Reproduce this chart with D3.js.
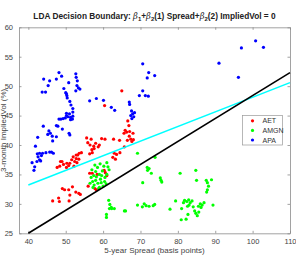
<!DOCTYPE html>
<html>
<head>
<meta charset="utf-8">
<script src="https://cdn.jsdelivr.net/npm/d3@7"></script>
<style>
  body { margin: 0; background: #fff; }
  text { font-family: "Liberation Sans", Arial, sans-serif; }
</style>
</head>
<body>
<div id="chart"></div>
<script>
// Data: [spread, impliedVol]
const aet = [
  [65.0,49.2],[60.4,46.7],[66.6,44.1],[66.9,43.3],[65.9,42.5],[66.3,42.2],[65.6,42.0],[67.1,42.3],
  [67.4,41.0],[68.1,40.9],[67.7,40.6],[55.6,41.2],[56.8,41.0],[59.6,41.1],[62.8,41.0],[64.4,40.8],
  [55.9,40.4],[56.5,40.0],[57.5,39.8],[58.0,40.3],[58.7,39.7],[59.0,40.0],[57.6,39.4],[57.1,38.7],
  [56.4,38.5],[57.0,39.2],[60.5,41.0],[63.0,38.6],[63.6,38.4],[62.6,37.9],[63.3,37.6],[64.5,38.7],
  [65.7,39.7],[66.5,40.8],[67.0,41.5],[68.0,42.0],
  [54.2,38.7],[53.6,38.6],[53.2,38.3],[52.8,38.3],[52.0,38.0],[52.8,37.7],[51.6,37.5],[52.4,37.2],
  [51.1,36.9],[50.3,36.9],[49.4,36.7],[48.4,36.4],[48.6,37.2],[49.0,37.2],[47.7,36.2],[50.2,36.2],
  [50.8,36.5],[52.2,36.4],[53.0,37.0],[53.5,37.6],
  [46.5,30.5],[48.1,31.0],[48.3,30.4],[49.1,32.6],[49.7,32.4],[50.8,32.4],[51.1,31.5],[50.9,30.5],
  [51.8,32.9],[52.7,32.0],[53.5,31.8],[53.9,31.6],
  [56.4,35.2],[57.1,35.2],[58.4,35.0],[56.0,33.0],[57.8,32.6],[58.2,32.4],[60.6,35.3],[61.0,34.8],[60.3,35.7]
];
const amgn = [
  [57.0,35.8],[57.5,34.8],[58.0,35.5],[58.5,36.2],[59.0,35.0],[59.3,34.2],[59.8,35.6],[60.2,36.4],
  [60.5,34.5],[61.0,35.0],[61.3,36.3],[61.0,37.0],[57.2,33.8],[57.6,33.2],[58.0,34.0],[58.6,33.5],
  [59.0,32.8],[59.5,33.6],[60.0,33.0],[60.4,33.8],[56.8,34.5],[56.5,33.5],[58.2,34.6],[59.6,34.8],
  [60.8,33.4],[57.8,36.6],[59.2,36.8],[61.6,35.8],[57.3,32.8],[58.8,32.6],
  [61.5,30.6],[61.8,29.9],[60.9,28.2],[60.9,27.7],[61.7,29.2],[62.3,29.2],[63.0,29.2],[66.0,28.8],
  [69.2,38.6],[71.9,35.7],[70.6,33.6],[69.2,29.8],[70.5,29.5],[71.0,30.0],[71.5,29.7],[62.2,29.4],[65.7,28.8],
  [73.9,37.9],[71.8,36.2],[72.3,36.0],[72.9,35.2],[75.5,34.0],[75.7,33.7],[75.3,34.4],[80.6,35.2],
  [84.8,35.7],[85.0,34.0],[87.6,34.0],[87.9,33.6],[88.2,33.0],[87.9,32.4],[87.7,32.0],[89.0,34.1],
  [72.3,29.6],[73.4,29.7],[73.8,29.9],[77.9,29.1],[79.4,30.5],[81.0,29.2],[80.9,27.3],[82.2,27.4],
  [81.5,30.2],[81.8,30.6],[82.4,30.4],[82.9,30.7],[83.3,30.2],[83.8,30.5],[83.0,29.8],[82.6,29.6],
  [84.1,29.5],[84.5,28.8],[84.8,28.4],[85.2,28.0],[85.6,28.6],[85.5,29.6],[86.0,30.0],[86.5,29.8],
  [87.0,30.2],[86.2,29.4],[89.4,29.8],[82.7,28.2]
];
const apa = [
  [48.2,52.3],[44.1,51.2],[45.7,50.9],[47.5,51.2],[48.9,51.7],[45.3,50.1],[43.7,49.0],[44.6,49.0],
  [52.7,52.1],[52.8,51.5],[53.1,50.9],[50.8,50.6],[49.5,49.6],[53.0,50.1],[53.4,49.7],[53.8,49.5],
  [52.7,49.2],[50.0,48.9],[50.2,48.7],[50.3,48.4],[50.4,48.0],[51.1,47.4],[51.4,46.8],[51.9,46.2],
  [51.9,45.6],[51.0,45.3],[50.6,44.8],[50.2,45.0],[50.2,45.4],[49.9,44.6],[49.3,44.5],[48.7,44.4],
  [48.2,44.4],[51.3,44.7],[51.9,44.9],[51.8,44.4],[51.3,44.3],[44.0,43.2],[45.5,42.4],[45.9,42.0],
  [45.2,41.8],[46.4,41.5],[47.5,41.4],[47.5,43.3],[47.9,43.2],[49.1,42.7],[50.9,42.0],[51.1,41.7],
  [42.5,41.3],[46.5,40.7],[41.9,39.8],[42.4,38.5],[43.0,38.6],[43.5,38.2],[43.8,38.6],[44.7,38.7],
  [45.7,38.8],[46.2,38.8],[46.7,38.6],[43.0,37.5],[42.3,37.2],[43.3,37.3],[41.0,37.0],[41.7,36.3],
  [41.5,35.7],[42.6,38.0],
  [56.4,47.5],[58.2,47.9],[60.1,47.6],[62.2,46.4],[63.1,45.9],[67.0,47.3],[67.1,46.9],[67.6,45.8],
  [67.9,45.3],[67.4,45.0],[68.2,44.8],[67.7,44.5],[68.4,45.5],[70.6,49.2],[69.7,48.4],[71.3,48.4],
  [70.6,53.8],[72.2,52.3],[71.8,51.4],[73.8,51.8],[72.1,48.3],
  [91.0,53.9],[97.0,56.5],[100.8,57.7],[102.9,56.6],[96.2,51.5]
];

// boundary lines, end points
const boundaryX = [40, 110];
const linearY = [25.0, 52.3];
const quadY = [33.2, 50.6];

const groups = ["AET", "AMGN", "APA"];
const groupData = [aet, amgn, apa];
const colors = ["#ff0000", "#00ff00", "#0000ff"];

const xTicks = [40, 50, 60, 70, 80, 90, 100, 110];
const yTicks = [25, 30, 35, 40, 45, 50, 55, 60];

const W = 296, H = 258;
const margin = { top: 27.3, right: 6, bottom: 24.7, left: 19 };
const width = W - margin.left - margin.right,
  height = H - margin.top - margin.bottom;

let svg = d3.select("#chart")
  .append("svg")
  .attr("width", W)
  .attr("height", H);

let g = svg.append("g")
  .attr("transform", "translate(" + margin.left + "," + margin.top + ")");

let x = d3.scaleLinear().domain([37.5, 110]).range([0, width]);
let y = d3.scaleLinear().domain([25, 60]).range([height, 0]);

// Axes (inward ticks, box on)
const axisColor = "#8a8a8a";
const labelColor = "#444";

function styleAxis(sel, showLabels) {
  sel.select(".domain").attr("stroke", axisColor).attr("stroke-width", 0.8);
  sel.selectAll(".tick line").attr("stroke", axisColor).attr("stroke-width", 0.8);
  sel.selectAll(".tick text")
    .attr("fill", labelColor)
    .style("font-size", "7.5px")
    .style("display", showLabels ? null : "none");
}

g.append("g")
  .attr("transform", "translate(0," + height + ")")
  .call(d3.axisBottom(x).tickValues(xTicks).tickSizeInner(-2.5).tickSizeOuter(0).tickPadding(5))
  .call(s => styleAxis(s, true));

g.append("g")
  .call(d3.axisTop(x).tickValues(xTicks).tickSizeInner(-2.5).tickSizeOuter(0))
  .call(s => styleAxis(s, false));

g.append("g")
  .call(d3.axisLeft(y).tickValues(yTicks).tickSizeInner(-2.5).tickSizeOuter(0).tickPadding(6))
  .call(s => styleAxis(s, true));

g.append("g")
  .attr("transform", "translate(" + width + ",0)")
  .call(d3.axisRight(y).tickValues(yTicks).tickSizeInner(-2.5).tickSizeOuter(0))
  .call(s => styleAxis(s, false));

// Points
groupData.forEach(function (pts, i) {
  g.append("g")
    .selectAll("circle")
    .data(pts)
    .enter()
    .append("circle")
    .attr("cx", d => x(d[0]))
    .attr("cy", d => y(d[1]))
    .attr("r", 1.6)
    .attr("fill", colors[i]);
});

// Boundary lines
let line = d3.line().x(d => x(d[0])).y(d => y(d[1]));
g.append("path")
  .datum(boundaryX.map((v, i) => [v, quadY[i]]))
  .attr("d", line)
  .attr("fill", "none")
  .attr("stroke", "#00ffff")
  .attr("stroke-width", 1.6);
g.append("path")
  .datum(boundaryX.map((v, i) => [v, linearY[i]]))
  .attr("d", line)
  .attr("fill", "none")
  .attr("stroke", "#000")
  .attr("stroke-width", 1.6);

// Legend
let legend = svg.append("g").attr("transform", "translate(242.5,115.5)");
legend.append("rect")
  .attr("width", 40).attr("height", 29.5)
  .attr("fill", "#fff").attr("stroke", "#999").attr("stroke-width", 0.7);
groups.forEach(function (name, i) {
  legend.append("circle")
    .attr("cx", 10).attr("cy", 5.3 + i * 9.6).attr("r", 1.6)
    .attr("fill", colors[i]);
  legend.append("text")
    .attr("x", 20).attr("y", 5.3 + i * 9.6 + 2.6)
    .attr("fill", "#333")
    .style("font-size", "7px")
    .text(name);
});

// Title
let title = svg.append("text")
  .attr("x", margin.left + width / 2)
  .attr("y", 18.5)
  .attr("text-anchor", "middle")
  .attr("font-weight", "bold")
  .attr("fill", "#222")
  .style("font-size", "8.3px");
title.append("tspan").text("LDA Decision Boundary: ");
title.append("tspan").attr("font-style", "italic").attr("font-weight", "normal").attr("font-family", "DejaVu Serif").text("\u03B2");
title.append("tspan").attr("font-size", "6px").attr("dy", 2).text("1");
title.append("tspan").attr("dy", -2).text("+");
title.append("tspan").attr("font-style", "italic").attr("font-weight", "normal").attr("font-family", "DejaVu Serif").text("\u03B2");
title.append("tspan").attr("font-size", "6px").attr("dy", 2).text("2");
title.append("tspan").attr("dy", -2).text("(1) Spread+");
title.append("tspan").attr("font-style", "italic").attr("font-weight", "normal").attr("font-family", "DejaVu Serif").text("\u03B2");
title.append("tspan").attr("font-size", "6px").attr("dy", 2).text("2");
title.append("tspan").attr("dy", -2).text("(2) ImpliedVol = 0");

// Axis labels
svg.append("text")
  .attr("x", margin.left + width / 2)
  .attr("y", 253)
  .attr("text-anchor", "middle")
  .attr("fill", labelColor)
  .style("font-size", "8px")
  .text("5-year Spread (basis points)");

svg.append("text")
  .attr("transform", "translate(6," + (margin.top + height / 2) + ") rotate(-90)")
  .attr("text-anchor", "middle")
  .attr("fill", labelColor)
  .style("font-size", "8px")
  .text("3-month ImpliedVol (%)");
</script>
</body>
</html>
